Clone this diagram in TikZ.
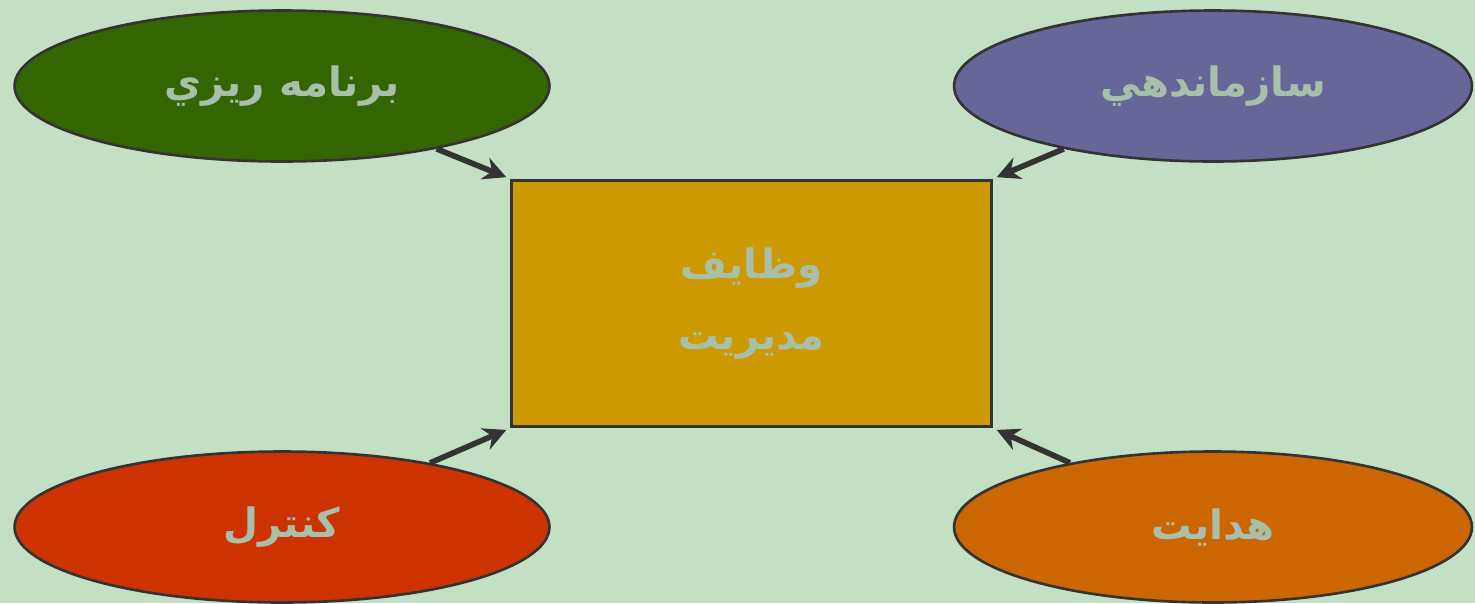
\documentclass[tikz,border=0pt]{standalone}
\usepackage{fontspec}
\usepackage{tikz}
\usetikzlibrary{arrows.meta,shapes.geometric}
\newfontfamily\arabicfont[Script=Arabic]{DejaVu Sans}
\TeXXeTstate=1

\definecolor{bgpaper}{RGB}{196,224,196}
\definecolor{plangreen}{RGB}{51,102,0}
\definecolor{orgpurple}{RGB}{102,102,153}
\definecolor{ctrlred}{RGB}{204,51,0}
\definecolor{leadorange}{RGB}{204,102,0}
\definecolor{funcgold}{RGB}{204,153,0}
\definecolor{labeltext}{RGB}{168,192,170}
\definecolor{edgegray}{RGB}{51,51,51}

\begin{document}
\begin{tikzpicture}[x=0.02cm, y=-0.02cm, >=Stealth,
  task/.style={ellipse, draw=edgegray, line width=1.5pt, inner sep=0pt,
    minimum width=10.7cm, minimum height=3.02cm, text=labeltext,
    font=\arabicfont\bfseries\fontsize{23}{28}\selectfont},
  hub/.style={rectangle, draw=edgegray, line width=1.7pt, fill=funcgold,
    minimum width=9.62cm, minimum height=4.94cm, text=labeltext, align=center,
    font=\arabicfont\bfseries\fontsize{23}{40}\selectfont},
  feed/.style={->, edgegray, line width=3.2pt, shorten >=2pt,
    arrows={-Stealth[length=13pt,width=13pt]}}]

  % Background of the slide
  \fill[bgpaper] (0,0) rectangle (1475,603);
  \useasboundingbox (0,0) rectangle (1475,603);

  % Central box
  \node[hub] (func) at (751.5,303.5) {\beginR وظايف\endR\\\beginR مديريت\endR};

  % The four functions
  \node[task, fill=plangreen] (plan) at (282,86) {\beginR برنامه ريزي\endR};
  \node[task, fill=orgpurple, minimum width=10.36cm] (org) at (1213,86) {\beginR سازماندهي\endR};
  \node[task, fill=ctrlred] (ctrl) at (282,527) {\beginR كنترل\endR};
  \node[task, fill=leadorange, minimum width=10.36cm] (lead) at (1213,527) {\beginR هدايت\endR};

  % Arrows into the box corners
  \draw[feed] (plan) -- (func.north west);
  \draw[feed] (org) -- (func.north east);
  \draw[feed] (ctrl) -- (func.south west);
  \draw[feed] (lead) -- (func.south east);
\end{tikzpicture}
\end{document}
